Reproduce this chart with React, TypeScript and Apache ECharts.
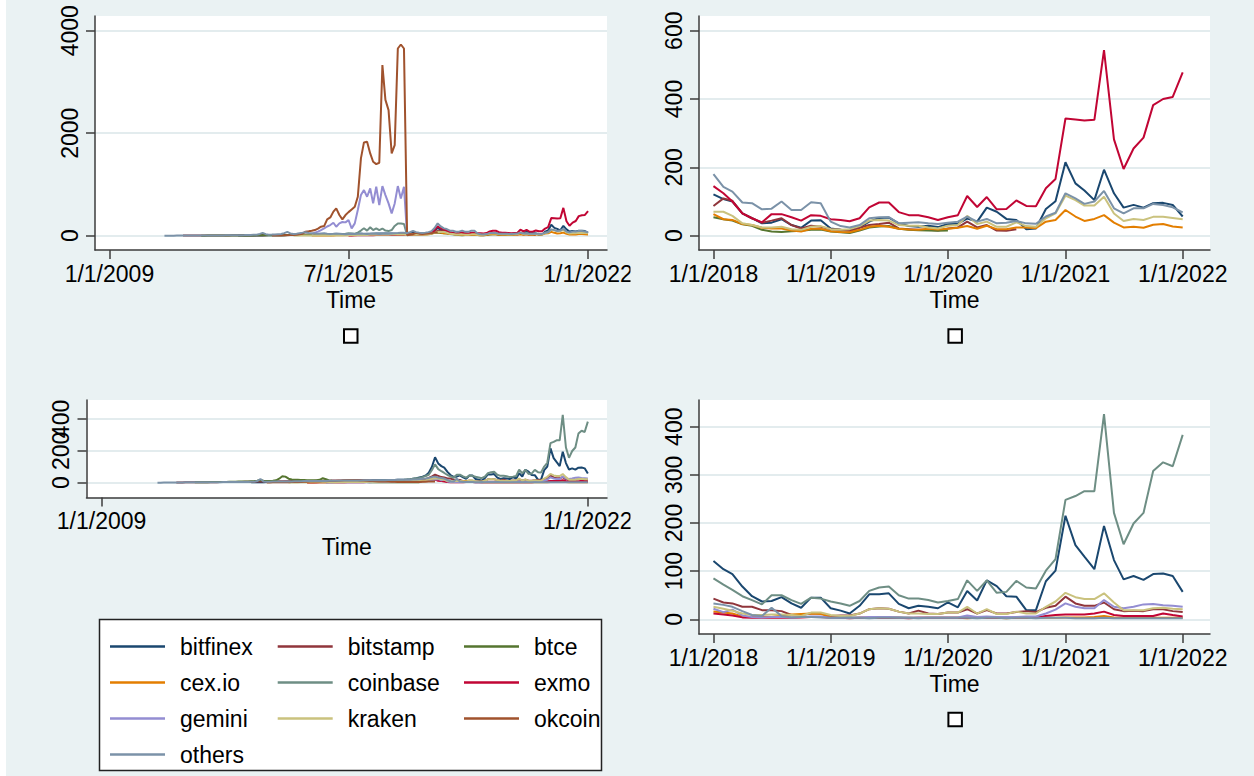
import React, { useEffect, useRef } from "react";
import * as echarts from "echarts";

const FONT = "'Liberation Sans', Arial, Helvetica, sans-serif";
const BG = "#EAF2F3";
const AXIS = "#3c3c3c";
const _ = null;

const SERIES_NAMES = ["bitfinex", "bitstamp", "btce", "cex.io", "coinbase", "exmo", "gemini", "kraken", "okcoin", "others"];
const SERIES_COLORS = ["#1a476f", "#90353b", "#55752f", "#e37e00", "#6e8e84", "#c10534", "#938dd2", "#cac27e", "#a0522d", "#7b92a8"];

// monthly observations from Jul 2010 to Jan 2022 (139 months)
const N_MONTHS = 139;
const JAN_2018 = 90;
const months: number[] = [];
for (let k = 0; k < N_MONTHS; k++) months.push(new Date(2010, 6 + k, 1).getTime());

// ---------- upper panels (variable A) ----------
const bitfinexA = [
  _, _, _, _, _, _,
  _, _, _, _, _, _, _, _, _, _, _, _,
  _, _, _, _, _, _, 2, 3, 3, 4, 4, 5,
  5, 5, 6, 7, 7, 8, 9, 9, 10, 11, 12, 12,
  14, 15, 16, 16, 18, 19, 20, 21, 22, 23, 25, 26,
  25, 28, 27, 30, 31, 30, 32, 33, 35, 34, 36, 35,
  38, 37, 40, 41, 42, 43, 45, 44, 42, 40, 38, 36,
  35, 30, 40, 60, 50, 40, 40, 45, 55, 70, 100, 150,
  121, 107, 100, 65, 51, 36, 38, 48, 31, 23, 44, 45,
  21, 17, 15, 24, 41, 52, 53, 36, 28, 26, 29, 25,
  34, 35, 50, 41, 82, 70, 49, 46, 19, 21, 78, 101,
  215, 153, 132, 104, 193, 124, 82, 90, 82, 95, 96, 90,
  56,
];
const bitstampA = [
  _, _, _, _, _, _,
  2, 2, 2, 3, 3, 3, 4, 4, 4, 5, 5, 5,
  5, 6, 6, 6, 7, 7, 8, 8, 8, 9, 9, 10,
  9, 10, 11, 11, 12, 12, 13, 13, 14, 14, 15, 15,
  16, 16, 17, 18, 17, 18, 19, 19, 20, 21, 20, 21,
  22, 22, 23, 24, 23, 24, 25, 26, 25, 26, 27, 27,
  28, 28, 29, 29, 30, 30, 31, 30, 30, 29, 30, 30,
  30, 25, 30, 40, 35, 30, 30, 35, 40, 55, 75, 95,
  87, 109, 102, 65, 51, 38, 44, 51, 31, 21, 29, 26,
  19, 17, 14, 23, 31, 34, 38, 21, 19, 17, 17, 15,
  21, 24, 41, 24, 31, 15, 14, 19, _, _, _, _,
  _, _, _, _, _, _, _, _, _, _, _, _,
  _,
];
const btceA = [
  _, _, _, _, _, _,
  _, _, _, _, _, _, 1, 1, 2, 2, 2, 3,
  3, 3, 4, 4, 5, 4, 5, 6, 5, 6, 7, 6,
  7, 8, 9, 8, 10, 9, 11, 10, 12, 11, 12, 14,
  13, 15, 14, 16, 15, 17, 16, 18, 17, 19, 18, 20,
  19, 21, 20, 22, 21, 23, 22, 24, 23, 25, 24, 26,
  25, 27, 26, 28, 27, 29, 28, 30, 29, 31, 30, 32,
  31, 25, 30, 35, 30, 28, 27, 30, 35, 45, 55, 60,
  54, 48, 44, 33, 29, 17, 12, 11, 13, 14, 17, 18,
  12, 10, 8, 15, 24, 27, 28, 20, 17, 16, 15, 14,
  15, _, _, _, _, _, _, _, _, _, _, _,
  _, _, _, _, _, _, _, _, _, _, _, _,
  _,
];
const cexA = [
  _, _, _, _, _, _,
  _, _, _, _, _, _, _, _, _, _, _, _,
  _, _, _, _, _, _, _, _, _, _, _, _,
  _, _, _, _, _, _, _, _, _, _, _, _,
  _, _, _, _, _, _, 2, 3, 3, 4, 5, 5,
  6, 6, 7, 8, 8, 9, 10, 10, 11, 12, 12, 13,
  14, 14, 15, 16, 15, 17, 18, 17, 19, 18, 20, 21,
  20, 15, 18, 20, 22, 22, 22, 25, 30, 40, 55, 70,
  63, 48, 46, 34, 31, 23, 21, 21, 15, 12, 20, 20,
  13, 11, 10, 17, 26, 29, 26, 20, 18, 17, 20, 18,
  20, 23, 28, 20, 29, 19, 19, 24, 24, 22, 41, 46,
  75, 56, 43, 49, 60, 38, 24, 26, 23, 32, 34, 27,
  24,
];
const coinbaseA = [
  _, _, _, _, _, _,
  _, _, _, _, _, _, _, _, _, _, _, _,
  _, _, _, _, _, _, _, _, _, _, _, _,
  _, _, _, _, _, _, _, _, _, _, _, _,
  _, _, _, _, _, _, _, _, _, _, _, _,
  10, 20, 30, 25, 35, 40, 50, 45, 40, 60, 100, 145,
  100, 165, 110, 145, 110, 140, 100, 90, 110, 190, 240, 240,
  230, 10, _, _, _, _, _, _, _, _, _, _,
  _, _, _, _, _, _, _, _, _, _, _, _,
  _, _, _, _, _, _, _, _, _, _, _, _,
  _, _, _, _, _, _, _, _, _, _, _, _,
  _, _, _, _, _, _, _, _, _, _, _, _,
  _,
];
const exmoA = [
  _, _, _, _, _, _,
  _, _, _, _, _, _, _, _, _, _, _, _,
  _, _, _, _, _, _, _, _, _, _, _, _,
  _, _, _, _, _, _, _, _, _, _, _, _,
  _, _, _, _, _, _, _, _, _, _, _, _,
  _, _, _, _, _, _, 5, 6, 7, 8, 8, 9,
  10, 10, 11, 12, 12, 13, 14, 15, 15, 16, 17, 18,
  20, 20, 25, 30, 35, 30, 30, 35, 45, 60, 110, 180,
  145, 124, 100, 65, 51, 39, 63, 63, 54, 44, 60, 58,
  48, 46, 42, 51, 83, 97, 97, 69, 60, 60, 54, 46,
  54, 60, 116, 84, 113, 77, 78, 103, 87, 86, 139, 166,
  343, 340, 337, 339, 543, 282, 195, 255, 287, 382, 400, 406,
  478,
];
const geminiA = [
  _, _, _, _, _, _,
  _, _, _, _, _, _, _, _, _, _, _, _,
  _, _, _, _, _, _, _, _, _, _, _, _,
  _, _, _, _, _, _, _, _, _, _, _, _,
  _, _, _, _, _, _, 30, 60, 80, 110, 143, 180,
  208, 253, 175, 240, 267, 260, 305, 143, 240, 500, 793, 890,
  760, 923, 630, 955, 598, 968, 793, 630, 435, 630, 968, 728,
  955, 5, _, _, _, _, _, _, _, _, _, _,
  _, _, _, _, _, _, _, _, _, _, _, _,
  _, _, _, _, _, _, _, _, _, _, _, _,
  _, _, _, _, _, _, _, _, _, _, _, _,
  _, _, _, _, _, _, _, _, _, _, _, _,
  _,
];
const krakenA = [
  _, _, _, _, _, _,
  _, _, _, _, _, _, _, _, _, _, _, _,
  _, _, _, _, _, _, _, _, _, _, _, _,
  _, _, _, _, _, _, _, _, _, _, _, _,
  2, 3, 3, 4, 4, 5, 6, 6, 7, 7, 8, 8,
  9, 9, 10, 10, 11, 12, 12, 13, 13, 14, 15, 15,
  16, 17, 17, 18, 19, 20, 20, 21, 22, 23, 23, 24,
  24, 15, 20, 25, 25, 22, 22, 25, 30, 40, 55, 75,
  70, 70, 58, 36, 31, 24, 24, 26, 19, 17, 26, 28,
  19, 17, 19, 28, 44, 46, 44, 31, 29, 29, 24, 21,
  29, 31, 58, 34, 41, 26, 26, 39, 28, 26, 51, 65,
  117, 104, 88, 88, 114, 65, 43, 49, 46, 55, 55, 52,
  48,
];
const okcoinA = [
  _, _, _, _, _, _,
  _, _, _, _, _, _, _, _, _, _, _, _,
  _, _, _, _, _, _, _, _, _, _, _, _,
  _, _, _, _, _, 2, 3, 5, 5, 8, 10, 12,
  15, 20, 30, 40, 78, 85, 95, 110, 140, 175, 188, 318,
  357, 470, 533, 403, 318, 403, 460, 513, 565, 760, 1508, 1820,
  1833, 1605, 1443, 1397, 1423, 3328, 2650, 2450, 1605, 1768, 3653, 3731,
  3653, 10, 20, 30, 55, 40, 35, 40, 45, 50, 60, 70,
  _, _, _, _, _, _, _, _, _, _, _, _,
  _, _, _, _, _, _, _, _, _, _, _, _,
  _, _, _, _, _, _, _, _, _, _, _, _,
  _, _, _, _, _, _, _, _, _, _, _, _,
  _,
];
const othersA = [
  1, 1, 1, 1, 2, 2,
  2, 2, 3, 3, 3, 4, 4, 4, 5, 5, 5, 6,
  6, 6, 7, 7, 8, 8, 9, 10, 12, 15, 15, 18,
  20, 35, 55, 30, 20, 22, 25, 30, 35, 50, 75, 45,
  35, 40, 50, 60, 70, 55, 50, 45, 40, 45, 50, 40,
  35, 40, 45, 40, 35, 30, 35, 40, 35, 40, 45, 40,
  35, 40, 45, 40, 35, 40, 45, 40, 45, 50, 55, 60,
  60, 50, 70, 95, 70, 60, 55, 60, 70, 90, 150, 240,
  180, 143, 129, 97, 95, 77, 79, 100, 75, 75, 98, 95,
  41, 28, 24, 31, 51, 54, 54, 36, 38, 39, 36, 34,
  38, 41, 56, 41, 49, 36, 38, 43, 36, 35, 56, 67,
  124, 109, 93, 100, 131, 80, 65, 80, 80, 93, 90, 83,
  68,
];

// ---------- lower panels (variable B) ----------
const bitfinexB = [
  _, _, _, _, _, _,
  _, _, _, _, _, _, _, _, _, _, _, _,
  _, _, _, _, _, _, _, _, _, _, _, _,
  2, 2, 3, 3, 3, 4, 4, 4, 5, 5, 5, 6,
  6, 6, 7, 7, 7, 8, 8, 8, 9, 9, 9, 10,
  10, 10, 10, 11, 11, 11, 12, 12, 12, 13, 13, 13,
  14, 14, 14, 15, 15, 15, 16, 16, 16, 17, 17, 18,
  18, 19, 20, 22, 25, 28, 33, 38, 45, 62, 100, 160,
  121, 104, 94, 68, 48, 37, 38, 46, 33, 24, 45, 45,
  23, 18, 12, 28, 52, 52, 54, 32, 23, 28, 26, 23,
  35, 25, 59, 39, 81, 69, 48, 47, 19, 19, 79, 101,
  215, 154, 130, 104, 194, 123, 83, 90, 82, 94, 95, 90,
  57,
];
const bitstampB = [
  _, _, _, _, _, _,
  1, 1, 1, 2, 2, 2, 2, 2, 3, 3, 3, 3,
  3, 3, 4, 4, 4, 4, 5, 5, 5, 5, 6, 6,
  6, 6, 7, 7, 7, 8, 8, 8, 8, 9, 9, 9,
  9, 10, 10, 10, 10, 11, 11, 11, 11, 12, 12, 12,
  12, 12, 13, 13, 13, 13, 14, 15, 16, 17, 17, 16,
  15, 14, 13, 12, 12, 11, 11, 10, 10, 10, 10, 10,
  10, 10, 11, 12, 14, 15, 18, 20, 22, 30, 40, 50,
  43, 35, 33, 26, 26, 19, 19, 17, 9, 9, 12, 12,
  7, 8, 8, 12, 21, 23, 22, 16, 12, 18, 12, 11,
  14, 14, 21, 12, 19, 12, 12, 15, 17, 15, 24, 28,
  47, 33, 28, 28, 35, 21, 17, 18, 17, 21, 21, 17,
  15,
];
const btceB = [
  _, _, _, _, _, _,
  _, _, _, _, _, _, 2, 2, 3, 3, 3, 4,
  4, 4, 5, 5, 5, 6, 6, 6, 7, 7, 8, 8,
  9, 10, 12, 17, 12, 10, 10, 12, 15, 25, 40, 38,
  25, 20, 19, 18, 17, 17, 16, 15, 16, 15, 18, 28,
  22, 14, 12, 10, 9, 8, 8, 7, 6, 6, 5, 5,
  4, 4, 3, 3, 3, 3, 2, 2, 2, 2, 2, 2,
  2, 2, 2, 2, 2, 2, 2, _, _, _, _, _,
  _, _, _, _, _, _, _, _, _, _, _, _,
  _, _, _, _, _, _, _, _, _, _, _, _,
  _, _, _, _, _, _, _, _, _, _, _, _,
  _, _, _, _, _, _, _, _, _, _, _, _,
  _,
];
const cexB = [
  _, _, _, _, _, _,
  _, _, _, _, _, _, _, _, _, _, _, _,
  _, _, _, _, _, _, _, _, _, _, _, _,
  _, _, _, _, _, _, _, _, _, _, _, _,
  _, _, _, _, _, _, 1, 1, 1, 2, 2, 2,
  2, 2, 3, 3, 3, 3, 3, 4, 4, 4, 4, 4,
  4, 5, 5, 5, 5, 5, 5, 6, 6, 6, 6, 6,
  6, 6, 7, 7, 7, 8, 8, 9, 10, 12, 15, 18,
  16, 14, 12, 6, 5, 5, 5, 8, 10, 11, 12, 11,
  5, 4, 3, 3, 3, 3, 3, 3, 3, 3, 3, 3,
  3, 3, 2, 3, 3, 3, 2, 3, 3, 3, 4, 3,
  4, 4, 4, 5, 7, 4, 3, 3, 3, 3, 3, 3,
  3,
];
const coinbaseB = [
  _, _, _, _, _, _,
  _, _, _, _, _, _, _, _, _, _, _, _,
  _, _, _, _, _, _, _, _, _, _, _, _,
  _, _, _, _, _, _, _, _, _, _, _, _,
  _, _, _, _, _, _, _, _, _, _, _, _,
  3, 4, 4, 5, 5, 6, 6, 7, 7, 8, 8, 9,
  9, 10, 10, 11, 11, 12, 12, 13, 13, 14, 15, 15,
  16, 18, 20, 22, 25, 28, 30, 35, 42, 50, 80, 115,
  85, 72, 61, 48, 40, 31, 50, 50, 40, 32, 45, 43,
  37, 33, 28, 38, 59, 66, 68, 50, 43, 43, 40, 35,
  38, 42, 81, 59, 81, 55, 57, 80, 66, 64, 101, 125,
  248, 256, 266, 266, 426, 221, 156, 199, 221, 308, 326, 318,
  383,
];
const exmoB = [
  _, _, _, _, _, _,
  _, _, _, _, _, _, _, _, _, _, _, _,
  _, _, _, _, _, _, _, _, _, _, _, _,
  _, _, _, _, _, _, _, _, _, _, _, _,
  _, _, _, _, _, _, 1, 1, 1, 1, 2, 2,
  2, 2, 2, 2, 2, 3, 3, 3, 3, 3, 3, 3,
  3, 4, 4, 4, 4, 4, 4, 5, 5, 5, 5, 5,
  5, 5, 6, 6, 6, 7, 8, 10, 12, 15, 18, 20,
  12, 10, 8, 4, 3, 3, 3, 3, 3, 4, 5, 5,
  3, 3, 2, 3, 3, 3, 3, 3, 2, 3, 3, 3,
  3, 3, 4, 3, 4, 3, 3, 4, 4, 4, 7, 9,
  10, 10, 10, 12, 16, 9, 7, 7, 7, 7, 12, 9,
  6,
];
const geminiB = [
  _, _, _, _, _, _,
  _, _, _, _, _, _, _, _, _, _, _, _,
  _, _, _, _, _, _, _, _, _, _, _, _,
  _, _, _, _, _, _, _, _, _, _, _, _,
  _, _, _, _, _, _, _, _, _, _, _, _,
  1, 1, 1, 2, 2, 2, 2, 2, 3, 3, 3, 3,
  3, 3, 3, 4, 4, 4, 4, 4, 5, 5, 5, 5,
  5, 5, 6, 6, 7, 7, 8, 9, 10, 12, 15, 20,
  22, 15, 20, 8, 5, 4, 5, 5, 4, 5, 6, 6,
  3, 3, 3, 4, 5, 5, 5, 4, 4, 4, 4, 4,
  4, 4, 8, 5, 6, 5, 5, 5, 6, 6, 12, 20,
  33, 26, 23, 23, 40, 26, 23, 26, 31, 32, 29, 28,
  26,
];
const krakenB = [
  _, _, _, _, _, _,
  _, _, _, _, _, _, _, _, _, _, _, _,
  _, _, _, _, _, _, _, _, _, _, _, _,
  _, _, _, _, _, _, _, _, _, _, _, _,
  1, 1, 1, 1, 2, 2, 2, 2, 2, 2, 3, 3,
  3, 3, 3, 3, 4, 4, 4, 4, 4, 5, 5, 5,
  5, 5, 6, 6, 6, 6, 7, 7, 7, 8, 8, 8,
  8, 8, 9, 9, 10, 11, 12, 14, 16, 20, 25, 28,
  26, 22, 18, 12, 9, 9, 10, 10, 9, 7, 14, 14,
  9, 7, 7, 12, 21, 23, 22, 16, 12, 12, 11, 11,
  14, 14, 26, 12, 21, 11, 11, 16, 12, 12, 26, 37,
  55, 46, 42, 42, 54, 35, 19, 19, 19, 23, 24, 22,
  21,
];
const okcoinB = [
  _, _, _, _, _, _,
  _, _, _, _, _, _, _, _, _, _, _, _,
  _, _, _, _, _, _, _, _, _, _, _, _,
  _, _, _, _, _, 1, 1, 2, 2, 2, 3, 3,
  3, 4, 4, 5, 5, 6, 6, 7, 7, 8, 8, 9,
  9, 10, 10, 11, 12, 13, 15, 16, 17, 16, 15, 14,
  13, 12, 11, 10, 9, 8, 8, 7, 7, 6, 6, 5,
  5, 5, 4, 4, 4, 5, 5, 6, 6, 7, 8, 8,
  _, _, _, _, _, _, _, _, _, _, _, _,
  _, _, _, _, _, _, _, _, _, _, _, _,
  _, _, _, _, _, _, _, _, _, _, _, _,
  _, _, _, _, _, _, _, _, _, _, _, _,
  _,
];
const othersB = [
  0, 0, 1, 1, 1, 1,
  1, 1, 1, 2, 2, 2, 2, 2, 3, 3, 3, 3,
  3, 3, 3, 4, 4, 4, 4, 4, 5, 5, 5, 5,
  6, 6, 10, 23, 8, 6, 6, 7, 7, 7, 8, 8,
  8, 8, 9, 9, 9, 10, 10, 10, 10, 11, 11, 11,
  11, 12, 12, 12, 12, 13, 13, 13, 14, 14, 14, 14,
  15, 15, 15, 15, 16, 16, 16, 16, 17, 17, 17, 18,
  18, 18, 19, 19, 20, 20, 22, 24, 26, 30, 35, 38,
  33, 30, 26, 17, 9, 7, 24, 7, 4, 5, 5, 4,
  3, 3, 4, 3, 2, 3, 3, 4, 3, 2, 3, 3,
  3, 3, 3, 2, 3, 3, 2, 3, 3, 2, 3, 3,
  3, 2, 2, 2, 3, 2, 2, 2, 2, 2, 2, 2,
  2,
];

const VAR_A = [bitfinexA, bitstampA, btceA, cexA, coinbaseA, exmoA, geminiA, krakenA, okcoinA, othersA];
const VAR_B = [bitfinexB, bitstampB, btceB, cexB, coinbaseB, exmoB, geminiB, krakenB, okcoinB, othersB];

// axis ticks (dates shown as M/D/YYYY)
const FULL_X_TICKS_TOP = [new Date(2009, 0, 1).getTime(), new Date(2015, 6, 1).getTime(), new Date(2022, 0, 1).getTime()];
const FULL_X_TICKS_BOTTOM = [new Date(2009, 0, 1).getTime(), new Date(2022, 0, 1).getTime()];
const ZOOM_X_TICKS = [2018, 2019, 2020, 2021, 2022].map((y) => new Date(y, 0, 1).getTime());
const Y_TICKS = [
  [0, 2000, 4000],
  [0, 200, 400, 600],
  [0, 200, 400],
  [0, 100, 200, 300, 400],
];
// lower-left panel: its labels overlap, so they are split over two label layers
const Y_LABELS = [
  [0, 2000, 4000],
  [0, 200, 400, 600],
  [0, 400],
  [0, 100, 200, 300, 400],
];
const Y_LABELS_BL_EXTRA = [200];
const LEGEND_COLUMNS = [
  ["bitfinex", "cex.io", "gemini", "others"],
  ["bitstamp", "coinbase", "kraken"],
  ["btce", "exmo", "okcoin"],
];

const fmtDate = (v: number) => {
  const d = new Date(v);
  return `${d.getMonth() + 1}/${d.getDate()}/${d.getFullYear()}`;
};

function buildOption() {
  const grids = [
    { left: 95, top: 16, width: 512, height: 234 },
    { left: 699, top: 16, width: 511, height: 234 },
    { left: 86.5, top: 400, width: 520.5, height: 97.5 },
    { left: 699, top: 400, width: 511, height: 234 },
  ].map((g) => ({ ...g, show: true, backgroundColor: "#ffffff", borderWidth: 0, containLabel: false }));

  const xRanges: [number, number, number[]][] = [
    [new Date(2008, 7, 11).getTime(), new Date(2022, 6, 8).getTime(), FULL_X_TICKS_TOP],
    [new Date(2017, 10, 17).getTime(), new Date(2022, 2, 27).getTime(), ZOOM_X_TICKS],
    [new Date(2008, 7, 7).getTime(), new Date(2022, 6, 7).getTime(), FULL_X_TICKS_BOTTOM],
    [new Date(2017, 10, 17).getTime(), new Date(2022, 2, 27).getTime(), ZOOM_X_TICKS],
  ];
  const yRanges = [
    [-279, 4287],
    [-42, 643],
    [-93, 519],
    [-30.5, 455.5],
  ];

  const textBase = { fontFamily: FONT, fontSize: 23, color: "#000" };

  const xAxis = xRanges.map(([min, max, ticks], i) => ({
    type: "value",
    gridIndex: i,
    min,
    max,
    name: "Time",
    nameLocation: "middle",
    nameGap: 38,
    nameTextStyle: { ...textBase },
    axisLine: { show: true, onZero: false, lineStyle: { color: AXIS, width: 1.5 } },
    axisTick: { show: true, length: 9, lineStyle: { color: AXIS, width: 1.5 }, customValues: ticks },
    axisLabel: {
      show: true,
      ...textBase,
      margin: 12,
      customValues: ticks,
      formatter: (v: number) => fmtDate(v),
      showMinLabel: true,
      showMaxLabel: true,
      hideOverlap: false,
    },
    splitLine: { show: false },
  }));

  const yAxis: any[] = yRanges.map(([min, max], i) => ({
    type: "value",
    gridIndex: i,
    min,
    max,
    axisLine: { show: true, onZero: false, lineStyle: { color: AXIS, width: 1.5 } },
    axisTick: { show: true, length: 9, lineStyle: { color: AXIS, width: 1.5 }, customValues: Y_TICKS[i] },
    axisLabel: {
      show: true,
      ...textBase,
      rotate: 90,
      margin: 14,
      customValues: Y_LABELS[i],
      formatter: (v: number) => String(v),
      showMinLabel: true,
      showMaxLabel: true,
      hideOverlap: false,
    },
    splitLine: { show: true, lineStyle: { color: "#E3ECEE", width: 2 } },
  }));
  // second label layer for the lower-left panel (same scale, labels only)
  yAxis.push({
    type: "value",
    gridIndex: 2,
    position: "left",
    min: yRanges[2][0],
    max: yRanges[2][1],
    axisLine: { show: false },
    axisTick: { show: false, customValues: Y_LABELS_BL_EXTRA },
    splitLine: { show: false },
    axisLabel: {
      show: true,
      ...textBase,
      rotate: 90,
      margin: 14,
      customValues: Y_LABELS_BL_EXTRA,
      formatter: (v: number) => String(v),
      showMinLabel: true,
      showMaxLabel: true,
      hideOverlap: false,
    },
  });

  const series: any[] = [];
  const panels = [
    { vars: VAR_A, from: 0 },
    { vars: VAR_A, from: JAN_2018 },
    { vars: VAR_B, from: 0 },
    { vars: VAR_B, from: JAN_2018 },
  ];
  panels.forEach((p, gi) => {
    p.vars.forEach((arr, si) => {
      const data: any[] = [];
      for (let k = p.from; k < N_MONTHS; k++) {
        const v = arr[k];
        data.push([months[k], v === null || v === undefined ? "-" : v]);
      }
      series.push({
        type: "line",
        name: SERIES_NAMES[si],
        xAxisIndex: gi,
        yAxisIndex: gi,
        data,
        showSymbol: false,
        symbol: "none",
        connectNulls: false,
        silent: true,
        color: SERIES_COLORS[si],
        lineStyle: { color: SERIES_COLORS[si], width: 2 },
        emphasis: { disabled: true },
      });
    });
  });

  const colLeft = [110, 277.7, 464];
  const legend = LEGEND_COLUMNS.map((names, c) => ({
    orient: "vertical",
    left: colLeft[c],
    top: 635,
    padding: 0,
    icon: "rect",
    itemWidth: 55,
    itemHeight: 2.5,
    itemGap: 13,
    selectedMode: false,
    data: names,
    textStyle: { ...textBase, padding: [0, 0, 0, 10] },
    z: 5,
  }));

  const tofu = (x: number, y: number) => ({
    type: "rect",
    shape: { x: x + 1, y: y + 1, width: 13.5, height: 13.5 },
    style: { fill: "#ffffff", stroke: "#000000", lineWidth: 2 },
    z: 10,
  });

  const graphic = [
    { type: "rect", shape: { x: 0, y: 0, width: 6, height: 776 }, style: { fill: "#ffffff" }, z: 0 },
    {
      type: "rect",
      shape: { x: 99.5, y: 619.5, width: 502, height: 151 },
      style: { fill: "#ffffff", stroke: "#222222", lineWidth: 1.5 },
      z: 1,
    },
    tofu(343, 328.3),
    tofu(947.4, 328.3),
    tofu(947.4, 711.7),
    { type: "rect", shape: { x: 630.5, y: 255, width: 14, height: 36 }, style: { fill: BG }, z: 100 },
    { type: "rect", shape: { x: 630.5, y: 502, width: 14, height: 36 }, style: { fill: BG }, z: 100 },
  ];

  return {
    animation: false,
    backgroundColor: BG,
    textStyle: { fontFamily: FONT },
    grid: grids,
    xAxis,
    yAxis,
    legend,
    graphic,
    series,
  };
}

export default function App() {
  const ref = useRef<HTMLDivElement>(null);
  useEffect(() => {
    if (!ref.current) return;
    const chart = echarts.init(ref.current, undefined, { renderer: "svg" });
    chart.setOption(buildOption() as any);
    return () => chart.dispose();
  }, []);
  return <div ref={ref} style={{ position: "absolute", left: 0, top: 0, width: 1254, height: 776 }} />;
}
